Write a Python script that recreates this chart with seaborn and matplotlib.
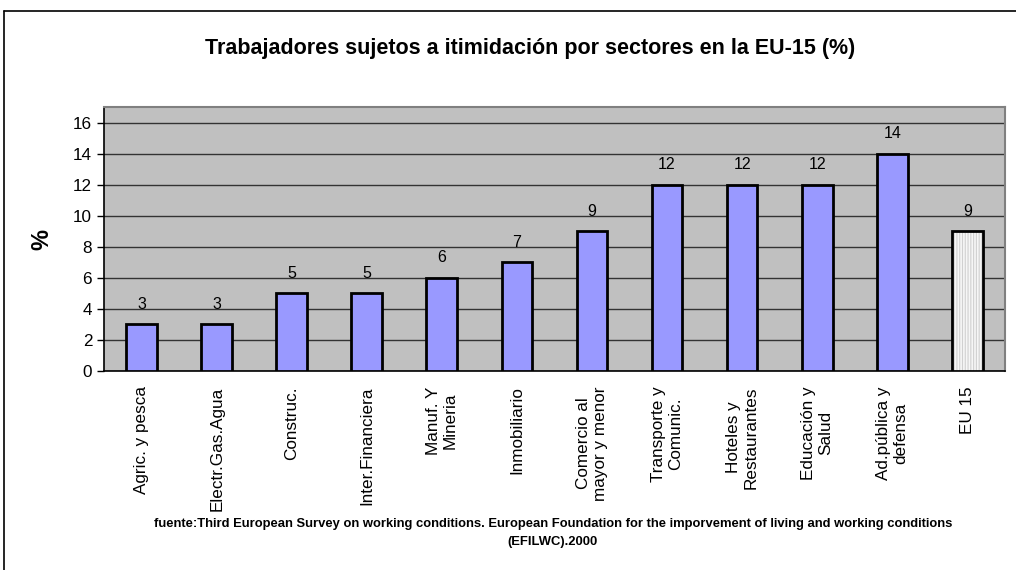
import matplotlib
matplotlib.use("Agg")
import matplotlib.pyplot as plt
from matplotlib.lines import Line2D
from matplotlib.patches import Rectangle
from matplotlib.ticker import FixedLocator, MultipleLocator
import seaborn as sns
import pandas as pd

sectores = [
    "Agric. y pesca", "Electr.Gas.Agua", "Construc.", "Inter.Financiera",
    "Manuf. Y\nMineria", "Inmobiliario", "Comercio al\nmayor y menor",
    "Transporte y\nComunic.", "Hoteles y\nRestaurantes", "Educación y\nSalud",
    "Ad.pública y\ndefensa", "EU 15",
]
porcentaje = [3, 3, 5, 5, 6, 7, 9, 12, 12, 12, 14, 9]

titulo = "Trabajadores sujetos a itimidación por sectores en la EU-15 (%)"
fuente = ("fuente:Third European Survey on working conditions. European Foundation "
          "for the imporvement of living and working conditions\n(EFILWC).2000")

sns.set_style("white")
plt.rcParams["font.family"] = ["Liberation Sans", "DejaVu Sans"]
plt.rcParams["text.color"] = "black"
plt.rcParams["axes.labelcolor"] = "black"
plt.rcParams["xtick.color"] = "black"
plt.rcParams["ytick.color"] = "black"
plt.rcParams["hatch.linewidth"] = 0.8

df = pd.DataFrame({"sector": sectores, "valor": porcentaje})
colores = ["#9999FF"] * (len(sectores) - 1) + ["#F6F6F6"]

fig = plt.figure(figsize=(10.16, 5.7), dpi=100)
ax = fig.add_axes([0.1024, 0.349, 0.8866, 0.463])
ax.set_facecolor("#C0C0C0")

sns.barplot(data=df, x="sector", y="valor", hue="sector", palette=colores,
            legend=False, width=0.41, edgecolor="black", linewidth=2,
            saturation=1, ax=ax, zorder=3)

# EU 15 bar: light vertical stripes, black outline drawn on top
ultimo = ax.patches[-1]
ultimo.set_edgecolor("#D0D0D0")
ultimo.set_linewidth(0)
ultimo.set_hatch("||||||")
ax.add_patch(Rectangle((ultimo.get_x(), 0), ultimo.get_width(), ultimo.get_height(),
                       fill=False, edgecolor="black", linewidth=2, zorder=4))

for p, v in zip(ax.patches[:len(porcentaje)], porcentaje):
    ax.annotate(str(v), (p.get_x() + p.get_width() / 2, v), xytext=(0, 9),
                textcoords="offset points", ha="center", va="bottom", fontsize=11.5)

ax.set_ylim(0, 17)
ax.set_xlim(-0.5, len(sectores) - 0.5)
ax.yaxis.set_major_locator(MultipleLocator(2))
ax.grid(axis="y", color="#333333", linewidth=1, zorder=0)
ax.set_axisbelow(True)

ax.set_xticks(range(len(sectores)))
ax.set_xticklabels(sectores, rotation=90, va="top", ha="center",
                   multialignment="center", fontsize=12.3)
ax.tick_params(axis="x", which="major", length=0, pad=11)
ax.xaxis.set_minor_locator(FixedLocator([i - 0.5 for i in range(len(sectores) + 1)]))
ax.tick_params(axis="x", which="minor", length=5, width=1, color="black", direction="out")
ax.tick_params(axis="y", length=5, width=1, color="black", direction="out",
               left=True, labelsize=12.3)

for s in ["left", "bottom"]:
    ax.spines[s].set_color("black")
    ax.spines[s].set_linewidth(1.2)
for s in ["top", "right"]:
    ax.spines[s].set_color("#808080")
    ax.spines[s].set_linewidth(1.5)

ax.set_xlabel("")
ax.set_ylabel("%", fontsize=17, fontweight="bold", labelpad=14)

fig.text(0.522, 0.915, titulo, ha="center", va="center",
         fontsize=15.5, fontweight="bold")
fig.text(0.544, 0.065, fuente, ha="center", va="center",
         fontsize=9.4, fontweight="bold", linespacing=1.6)

fig.add_artist(Line2D([0.004, 1.0], [0.981, 0.981], color="black", linewidth=1.2))
fig.add_artist(Line2D([0.004, 0.004], [0.0, 0.981], color="black", linewidth=1.2))

fig.savefig("out.png", dpi=100)
